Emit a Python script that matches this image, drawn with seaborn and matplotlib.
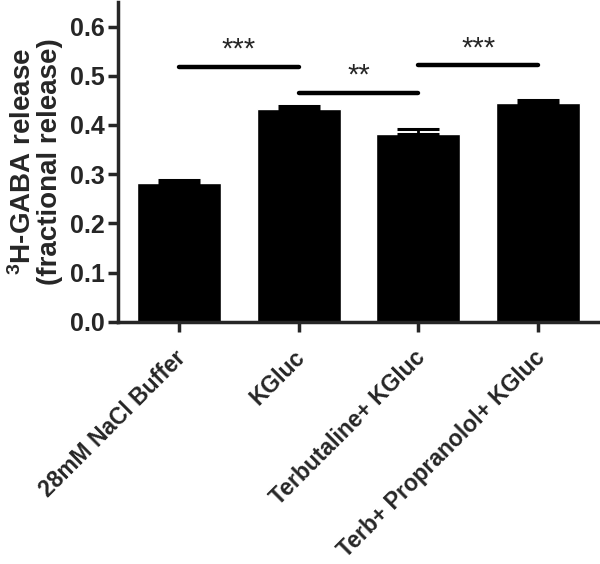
import numpy as np
import pandas as pd
import matplotlib
matplotlib.use("Agg")
import matplotlib.pyplot as plt
import matplotlib.transforms as mtransforms
import seaborn as sns

# values
conditions = ["28mM NaCl Buffer", "KGluc", "Terbutaline+ KGluc", "Terb+ Propranolol+ KGluc"]
release = [0.282, 0.432, 0.381, 0.444]
sem = [0.006, 0.007, 0.010, 0.006]

# significance brackets: (from bar, to bar, height, label)
sig_from = [0, 1, 2]
sig_to = [1, 2, 3]
sig_y = [0.518, 0.465, 0.521]
sig_text = ["***", "**", "***"]

df = pd.DataFrame({"condition": conditions, "release": release})

sns.set_style("ticks")
plt.rcParams["font.family"] = ["Liberation Sans", "DejaVu Sans"]
plt.rcParams["font.weight"] = "bold"
plt.rcParams["mathtext.fontset"] = "custom"
plt.rcParams["mathtext.rm"] = "Liberation Sans:bold"
plt.rcParams["mathtext.bf"] = "Liberation Sans:bold"
plt.rcParams["mathtext.default"] = "bf"

fig = plt.figure(figsize=(6.0, 5.64), dpi=100)
ax = fig.add_axes([0.196, 0.4296, 0.801, 0.567])

sns.barplot(data=df, x="condition", y="release", color="black",
            width=0.7, errorbar=None, saturation=1, ax=ax)

# upper-only error bars (GraphPad style)
x = np.arange(len(conditions))
ax.errorbar(x, release, yerr=[np.zeros(len(sem)), sem], fmt="none",
            ecolor="black", elinewidth=2, capsize=15, capthick=2.2)

# significance brackets
for a, b, y, t in zip(sig_from, sig_to, sig_y, sig_text):
    ax.plot([a, b], [y, y], color="black", lw=3.2, solid_capstyle="round")
    ax.text((a + b) / 2, y + 0.006, t, ha="center", va="bottom",
            fontsize=21, fontweight="normal")

ax.set_xlim(-0.51, 3.5)
ax.set_ylim(0, 0.65)
ax.set_yticks([0.0, 0.1, 0.2, 0.3, 0.4, 0.5, 0.6])
ax.set_yticklabels(["0.0", "0.1", "0.2", "0.3", "0.4", "0.5", "0.6"])

for side in ["top", "right"]:
    ax.spines[side].set_visible(False)
for side in ["left", "bottom"]:
    ax.spines[side].set_linewidth(2.5)

ax.tick_params(axis="y", width=2.5, length=7, labelsize=18, pad=2)
ax.tick_params(axis="x", width=2.5, length=7, labelsize=16.5, pad=10.5)
shift = mtransforms.ScaledTranslation(-0.05, 0, fig.dpi_scale_trans)
for lab in ax.get_xticklabels():
    lab.set_rotation(45)
    lab.set_ha("right")
    lab.set_rotation_mode("anchor")
    lab.set_fontweight("bold")
    lab.set_transform(lab.get_transform() + shift)
plt.setp(ax.get_yticklabels(), fontweight="bold")

ax.set_xlabel("")
ax.set_ylabel("$^3$H-GABA release\n(fractional release)", fontsize=20,
              fontweight="bold", labelpad=5, linespacing=1.0)

fig.savefig("out.png", dpi=100)
